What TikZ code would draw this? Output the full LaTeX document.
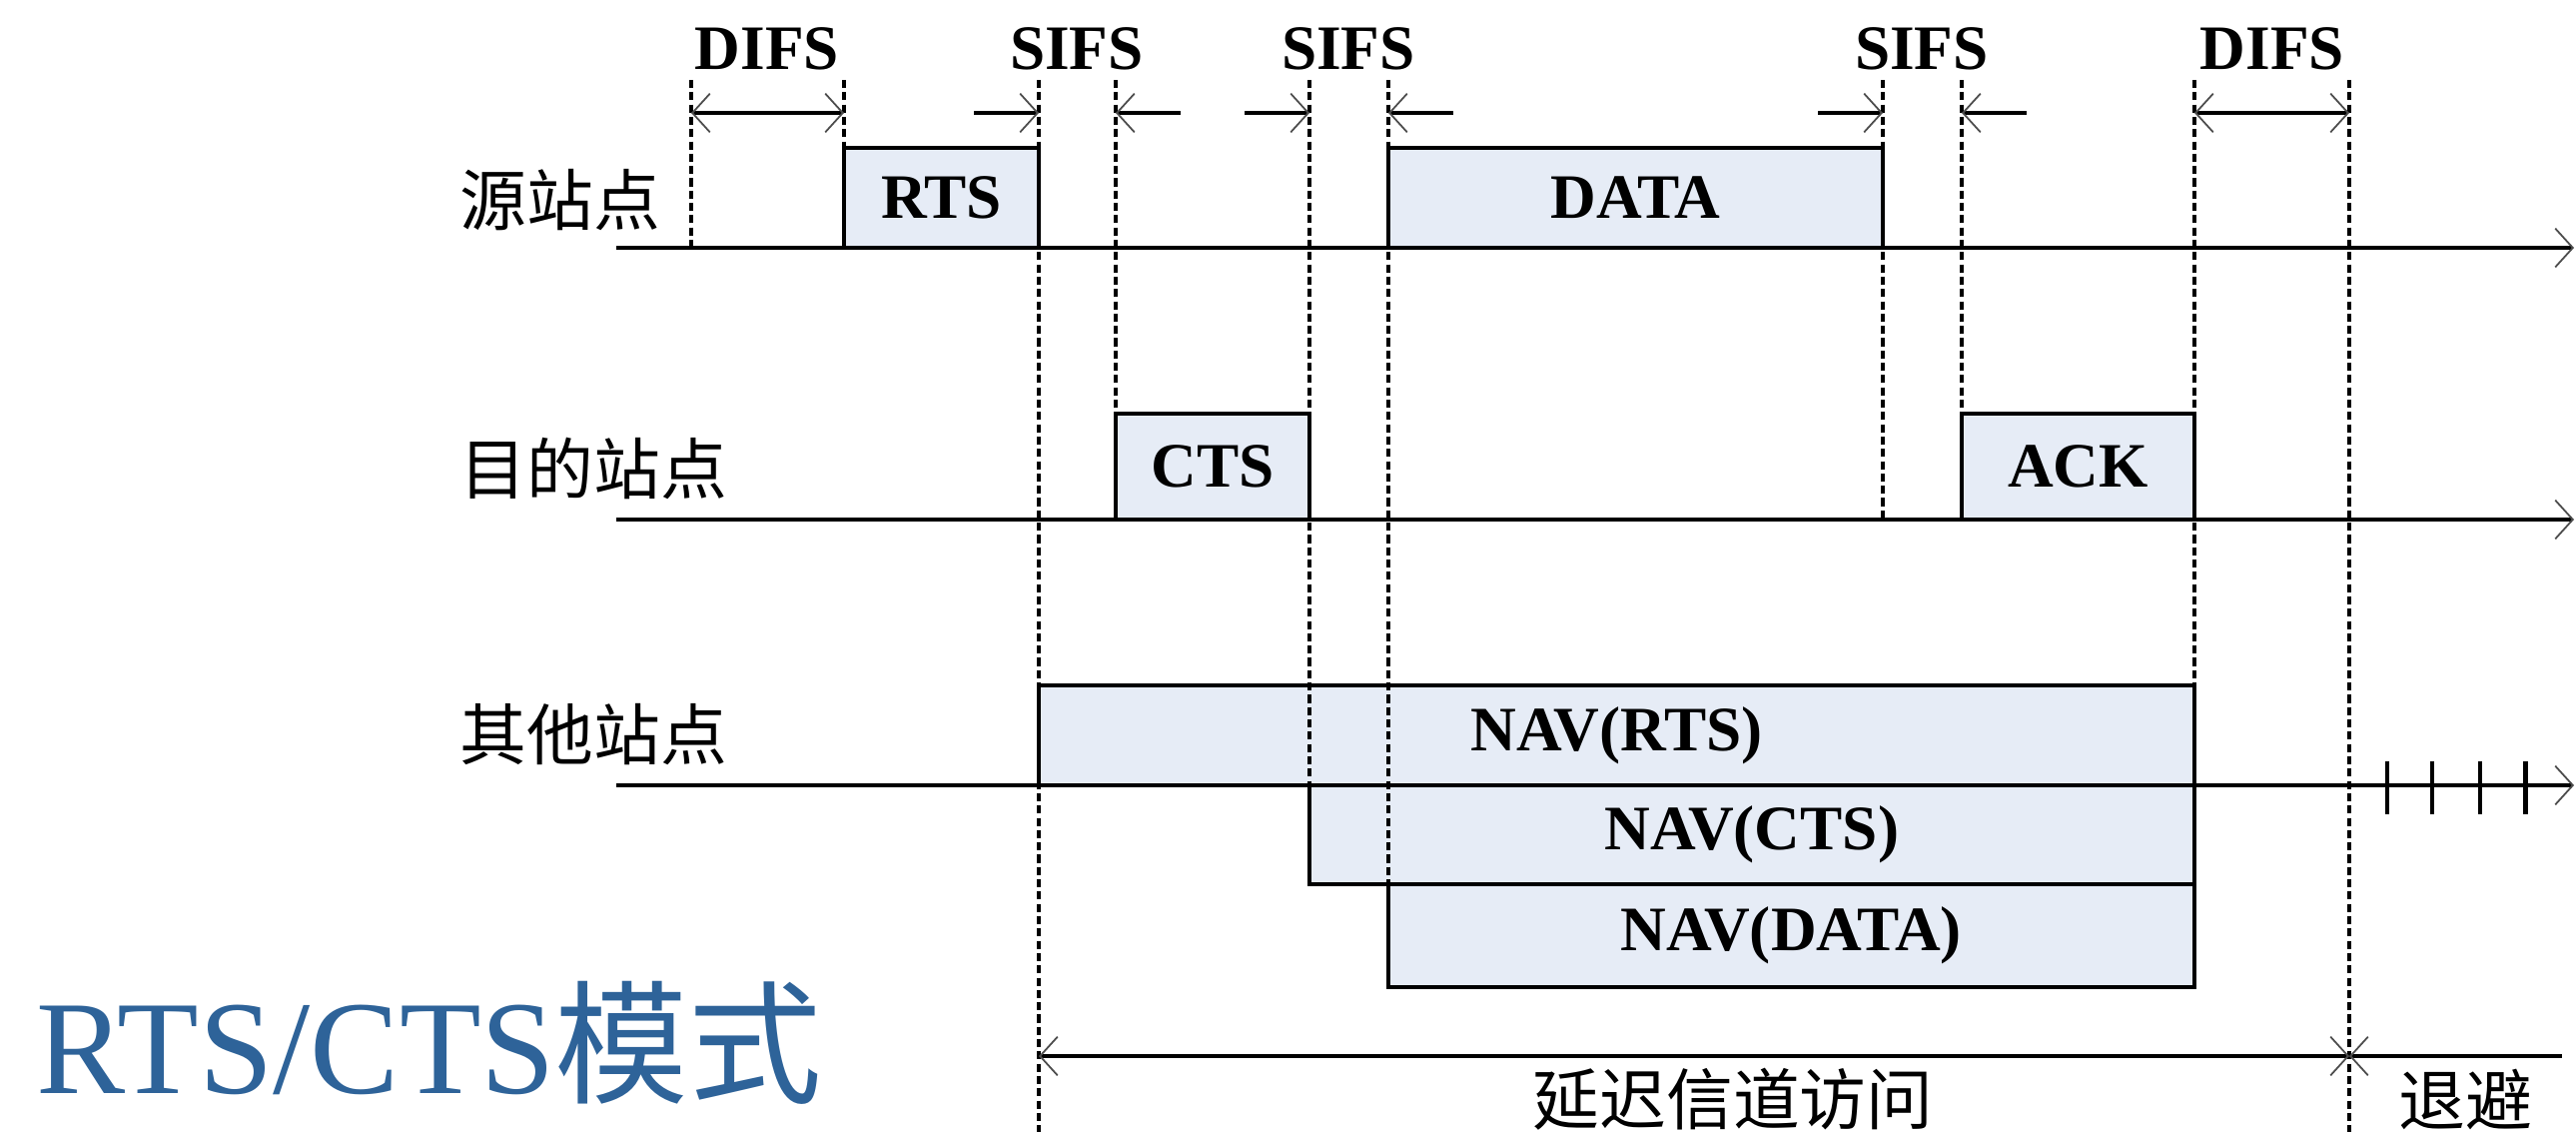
\documentclass[tikz,border=0pt]{standalone}
\usepackage{fontspec}
\setmainfont{Liberation Serif}
\newfontfamily\cjk{Noto Sans CJK SC}
\usepackage{tikz}
\usetikzlibrary{arrows.meta, positioning}
\definecolor{navfill}{RGB}{230,236,246}
\definecolor{titleblue}{RGB}{46,99,153}
\tikzset{>={Straight Barb[length=5pt, width=11pt, line width=0.5pt, color=black!70]},
	axis/.style={line width=1.2pt, ->},
	span/.style={line width=1.2pt},
	guide/.style={line width=0.9pt, dash pattern=on 2.3pt off 1.2pt},
	frame/.style={draw, line width=1.2pt, fill=navfill},
	lbl/.style={font=\bfseries\fontsize{18}{20}\selectfont, inner sep=0pt},
	station/.style={font=\cjk\fontsize{19}{21}\selectfont, anchor=west, inner sep=0pt}}

\begin{document}
\begin{tikzpicture}[x=0.01cm, y=-0.01cm]
	\useasboundingbox (0,0) rectangle (2579,1133);
	% stations
	\node[station] (src) at (460,200) {源站点};
	\node[station] (dst) at (460,469) {目的站点};
	\node[station] (oth) at (460,735) {其他站点};
	% frames on the air
	\draw[frame] (845,148) rectangle node[lbl] (rts) {RTS} (1040,248);
	\draw[frame] (1390,148) rectangle node[lbl] (data) {DATA} (1885,248);
	\draw[frame] (1117,414) rectangle node[lbl] (cts) {CTS} (1311,520);
	\draw[frame] (1964,414) rectangle node[lbl] (ack) {ACK} (2197,520);
	\draw[frame] (1040,686) rectangle node[lbl] (navrts) {NAV(RTS)} (2197,786);
	\draw[frame] (1311,786) rectangle node[lbl] (navcts) {NAV(CTS)} (2197,885);
	\draw[frame] (1390,885) rectangle node[lbl] (navdata) {NAV(DATA)} (2197,988);
	% time axes
	\foreach \n/\y in {src/248, dst/520, oth/786}
		\draw[axis] (617,\y) coordinate (\n0) -- (2577,\y) coordinate (\n1);
	% interframe spaces
	\foreach \n/\x/\y in {difsA/692/248, difsB/845/248, sifsA/1040/1133, sifsB/1117/520,
		sifsC/1311/786, sifsD/1390/885, sifsE/1885/520, sifsF/1964/520, difsC/2197/988, difsD/2352/1133}
		\draw[guide] (\x,80) coordinate (\n) -- (\x,\y);
	\coordinate (row) at (0,113);
	\draw[span, <->] (difsA |- row) -- (difsB |- row);
	\draw[span, <->] (difsC |- row) -- (difsD |- row);
	\draw[span, <-] (sifsA |- row) -- ++(-65,0);
	\draw[span, <-] (sifsB |- row) -- ++(65,0);
	\draw[span, <-] (sifsC |- row) -- ++(-65,0);
	\draw[span, <-] (sifsD |- row) -- ++(65,0);
	\draw[span, <-] (sifsE |- row) -- ++(-65,0);
	\draw[span, <-] (sifsF |- row) -- ++(65,0);
	\node[lbl] (difs1) at (768,49) {DIFS};
	\node[lbl] (sifs1) at (1078,49) {SIFS};
	\node[lbl] (sifs2) at (1350,49) {SIFS};
	\node[lbl] (sifs3) at (1924,49) {SIFS};
	\node[lbl] (difs2) at (2275,49) {DIFS};
	% backoff slots
	\foreach \x in {2390,2435,2483,2528}
		\draw[span, line width=1.4pt] (\x,762) -- (\x,815);
	% deferral
	\coordinate (deferA) at (sifsA |- 0,1057);
	\coordinate (deferB) at (difsD |- 0,1057);
	\coordinate (deferC) at (2565,1057);
	\draw[span, <->] (deferA) -- (deferB);
	\draw[span, <-] (deferB) -- (deferC);
	\node[station, anchor=center] (defer) at (1735,1100) {延迟信道访问};
	\node[station, anchor=center] (backoff) at (2468,1100) {退避};
	\node[anchor=base west, inner sep=0pt, text=titleblue, font=\fontsize{38}{40}\selectfont] (title) at (36,1094) {RTS/CTS{\cjk 模式}};
\end{tikzpicture}
\end{document}
